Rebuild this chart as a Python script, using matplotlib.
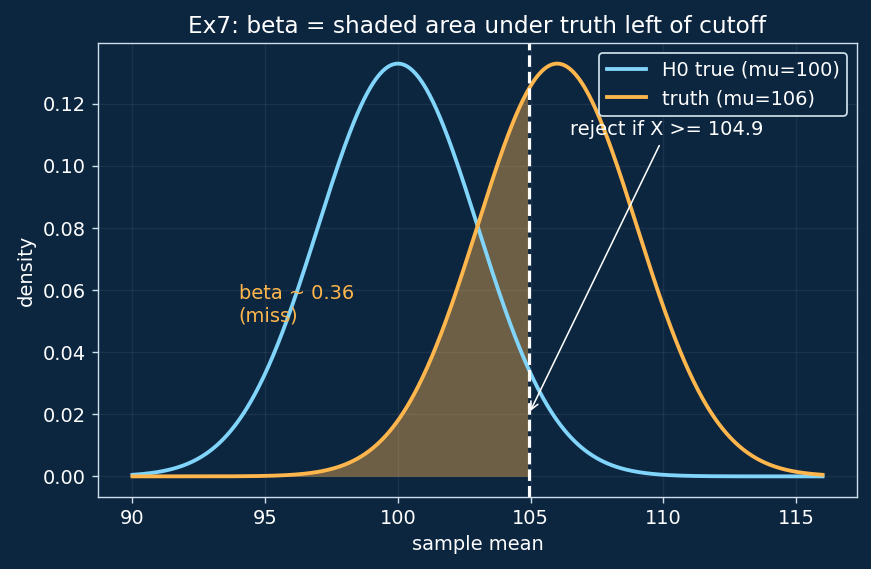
import numpy as np
import matplotlib.pyplot as plt

# parametros do exercicio
mu_h0 = 100
mu_truth = 106
sigma = 3
cutoff = 104.93
x_min, x_max = 90, 116
beta_txt = "beta ~ 0.36\n(miss)"
cutoff_txt = "reject if X >= 104.9"

BG = '#0c2640'
BLUE = '#81d4fa'
ORANGE = '#ffb74d'
SPINE = '#cfe0ea'
FS = 11.2


def pdf_normal(x, mu, s):
    return np.exp(-0.5 * ((x - mu) / s) ** 2) / (s * np.sqrt(2 * np.pi))


x = np.linspace(x_min, x_max, 600)
y_h0 = pdf_normal(x, mu_h0, sigma)
y_truth = pdf_normal(x, mu_truth, sigma)

fig = plt.figure(figsize=(6.968, 4.552), dpi=125, facecolor=BG)
ax = fig.add_axes([0.1125, 0.1265, 0.8715, 0.798])
ax.set_facecolor(BG)

ax.plot(x, y_h0, color=BLUE, lw=2.2, label='H0 true (mu=100)')
ax.plot(x, y_truth, color=ORANGE, lw=2.2, label='truth (mu=106)')

mask = x <= cutoff
ax.fill_between(x[mask], 0, y_truth[mask], color=ORANGE, alpha=0.4, lw=0)
ax.axvline(cutoff, color='white', ls='--', lw=1.8)

ax.annotate(cutoff_txt, xy=(cutoff, 0.02), xytext=(106.5, 0.11),
            color='white', fontsize=FS,
            arrowprops=dict(arrowstyle='->', color='white', lw=0.9))
ax.text(94, 0.05, beta_txt, color=ORANGE, fontsize=FS)

ax.grid(True, color='white', alpha=0.06, lw=0.8)
for s in ax.spines.values():
    s.set_color(SPINE)
ax.tick_params(colors=SPINE, labelcolor='white', labelsize=FS)
ax.set_xticks([90, 95, 100, 105, 110, 115])
ax.set_xlabel('sample mean', color='white', fontsize=FS)
ax.set_ylabel('density', color='white', fontsize=FS)
ax.set_title('Ex7: beta = shaded area under truth left of cutoff', color='white', fontsize=13.4)

leg = ax.legend(loc='upper right', facecolor=BG, edgecolor=SPINE, fontsize=FS, framealpha=1)
for t in leg.get_texts():
    t.set_color('white')

fig.savefig('out.png', dpi=125, facecolor=BG)
